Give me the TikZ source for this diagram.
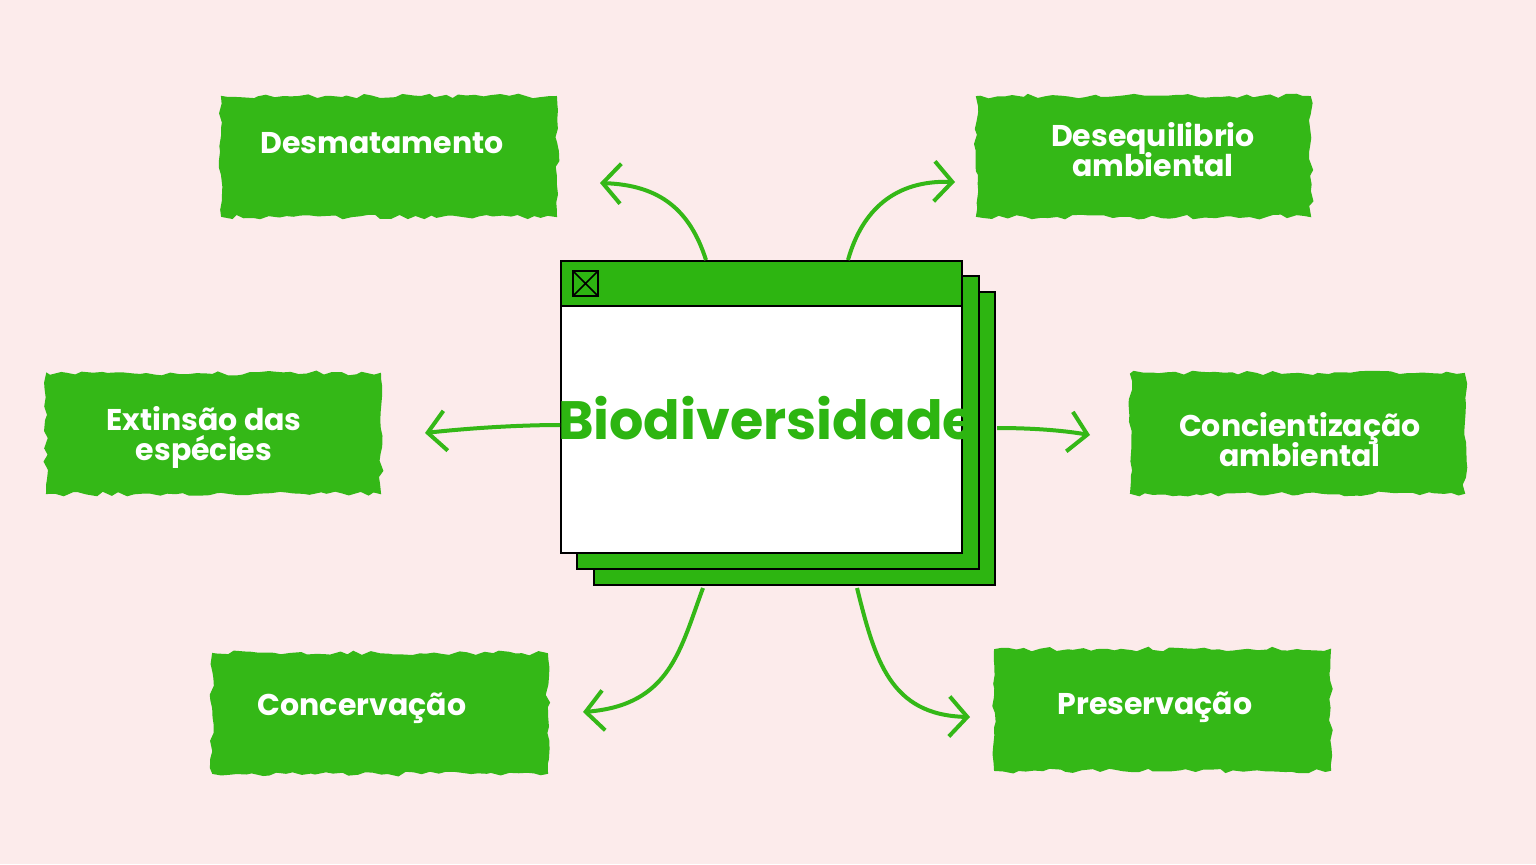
\documentclass[tikz,border=0pt]{standalone}
\usepackage{fontspec}
\setmainfont{Poppins}
\usetikzlibrary{arrows.meta,decorations.pathmorphing}
\definecolor{bg}{HTML}{FCEBEB}
\definecolor{gr}{HTML}{34B817}
\definecolor{wg}{HTML}{2DB511}
\begin{document}
\begin{tikzpicture}[x=0.5pt,y=-0.5pt,
  brush/.style={fill=gr,draw=gr,line width=1pt,decorate,decoration={random steps,segment length=4pt,amplitude=1.2pt}},
  lbl/.style={text=white,font=\fontsize{15}{18}\selectfont\bfseries,align=center},
  arr/.style={draw=gr,line width=2pt,-{Straight Barb[length=9pt,width=20pt,line width=2pt]}}]
\useasboundingbox (0,0) rectangle (1536,864);
\fill[bg] (0,0) rectangle (1536,864);
% boxes
\path[brush] (222,97) rectangle (556,216);
\path[brush] (977,97) rectangle (1310,216);
\path[brush] (47,374) rectangle (380,493);
\path[brush] (1131,374) rectangle (1464,493);
\path[brush] (213,654) rectangle (547,773);
\path[brush] (995,650) rectangle (1330,770);
\node[lbl] (desm) at (382,143) {Desmatamento};
\node[lbl] (deseq) at (1153,150) {Desequilibrio\\[-3pt]ambiental};
\node[lbl] (ext) at (204,437) {Extinsão das\\[-3pt]espécies};
\node[lbl] (conc) at (1300,440) {Concientização\\[-3pt]ambiental};
\node[lbl] (cons) at (362,708) {Concervação};
\node[lbl] (pres) at (1155,707) {Preservação};
% window
\draw[fill=wg,line width=0.8pt] (594,292) rectangle (995,585);
\draw[fill=wg,line width=0.8pt] (577,276) rectangle (979,569);
\draw[fill=white,line width=0.8pt] (561,261) rectangle (962,553);
\draw[fill=wg,line width=0.8pt] (561,261) rectangle (962,306);
\draw[line width=0.8pt] (573,271) rectangle (598,296) (573,271)--(598,296) (573,296)--(598,271);
\node[text=wg,font=\fontsize{27}{30}\selectfont\bfseries] (bio) at (767,418) {Biodiversidade};
\coordinate (t1) at (706,260); \coordinate (t2) at (848,260);
\coordinate (l1) at (560,425); \coordinate (r1) at (997,428);
\coordinate (b1) at (703,588); \coordinate (b2) at (857,588);
\coordinate (e1) at (600,183); \coordinate (e2) at (955,182);
\coordinate (e3) at (425,433); \coordinate (e4) at (1090,435);
\coordinate (e5) at (583,712); \coordinate (e6) at (970,717);
\draw[arr] (t1) .. controls (690,210) and (660,185) .. (e1);
\draw[arr] (t2) .. controls (862,210) and (895,180) .. (e2);
\draw[arr] (l1) .. controls (520,425) and (470,428) .. (e3);
\draw[arr] (r1) .. controls (1030,428) and (1060,430) .. (e4);
\draw[arr] (b1) .. controls (680,650) and (670,705) .. (e5);
\draw[arr] (b2) .. controls (875,660) and (890,715) .. (e6);
\end{tikzpicture}
\end{document}
